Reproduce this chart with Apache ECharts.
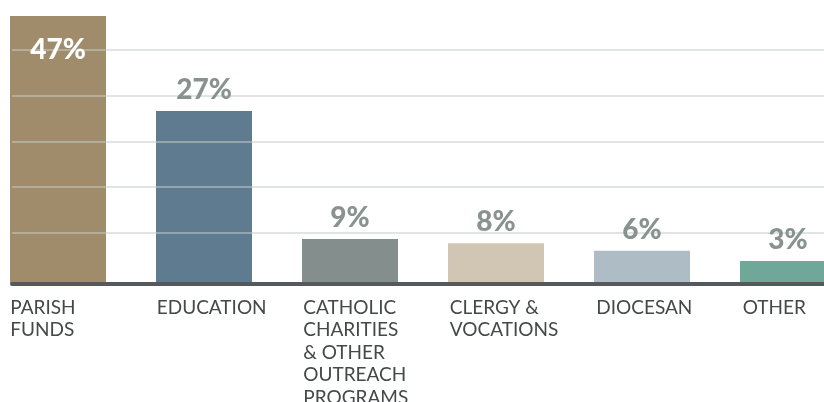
<!DOCTYPE html>
<html>
<head>
<meta charset="utf-8">
<script src="https://cdn.jsdelivr.net/npm/echarts@6/dist/echarts.min.js"></script>
<style>
  html, body { margin: 0; padding: 0; background: #fff; }
  #chart { width: 824px; height: 402px; }
</style>
</head>
<body>
<div id="chart"></div>
<script>
// categories and shares as printed
const categories = [
  'PARISH\nFUNDS',
  'EDUCATION',
  'CATHOLIC\nCHARITIES\n& OTHER\nOUTREACH\nPROGRAMS',
  'CLERGY &\nVOCATIONS',
  'DIOCESAN',
  'OTHER'
];
const shares = [47, 27, 9, 8, 6, 3];
// bar heights as drawn in the original (not to scale with shares), tallest = 100
const barHeights = [100, 64.4, 16.5, 14.9, 12.1, 8.2];
const barColors = ['#a08b6b', '#5f7b8f', '#848f8d', '#d1c5b3', '#adbcc5', '#6fa898'];

const chart = echarts.init(document.getElementById('chart'));

const labelFont = { fontFamily: 'Lato', fontWeight: 900, fontSize: 28 };

chart.setOption({
  animation: false,
  // grid 0: bars, grid 1: gridlines + baseline, grid 2: left-aligned category labels
  grid: [
    { left: -15, width: 876, top: 16, bottom: 119, outerBoundsMode: 'none' },
    { left: 12, right: 0, top: 50, bottom: 123.6, outerBoundsMode: 'none' },
    { left: -63, width: 879, top: 16, bottom: 118.6, outerBoundsMode: 'none' }
  ],
  xAxis: [
    { gridIndex: 0, type: 'category', data: categories, show: false },
    {
      gridIndex: 1, type: 'value', min: 0, max: 1, offset: 5, z: 4,
      axisLine: { show: true, onZero: false, lineStyle: { color: '#56595b', width: 4 } },
      axisTick: { show: false }, axisLabel: { show: false }, splitLine: { show: false }
    },
    {
      gridIndex: 2, type: 'category', data: categories,
      axisLine: { show: false }, axisTick: { show: false },
      axisLabel: {
        align: 'left', margin: 13, interval: 0,
        color: '#454849', fontFamily: 'Lato', fontSize: 19, lineHeight: 22.5
      }
    }
  ],
  yAxis: [
    { gridIndex: 0, type: 'value', min: 0, max: 100, show: false },
    {
      gridIndex: 1, type: 'value', min: 0, max: 5, interval: 1, z: 3,
      axisLine: { show: false }, axisTick: { show: false }, axisLabel: { show: false },
      splitLine: {
        show: true, showMinLine: false,
        lineStyle: { color: 'rgba(196,204,202,0.7)', width: 1.5 }
      }
    },
    { gridIndex: 2, type: 'value', show: false }
  ],
  series: [
    {
      type: 'bar', xAxisIndex: 0, yAxisIndex: 0, z: 2,
      data: barHeights,
      barWidth: 96,
      itemStyle: { color: (p) => barColors[p.dataIndex] },
      silent: true
    },
    // transparent copy carrying the labels, so they sit above the gridlines
    {
      type: 'bar', xAxisIndex: 0, yAxisIndex: 0, z: 5,
      data: barHeights.map((v, i) => i === 0
        ? { value: v, label: { position: 'insideTop', distance: 20, color: '#fff' } }
        : v),
      barWidth: 96, barGap: '-100%',
      itemStyle: { color: 'rgba(0,0,0,0)' },
      silent: true,
      label: {
        show: true, position: 'top', distance: 7, color: '#88938f',
        ...labelFont,
        formatter: (p) => shares[p.dataIndex] + '%'
      }
    }
  ]
});
</script>
</body>
</html>
